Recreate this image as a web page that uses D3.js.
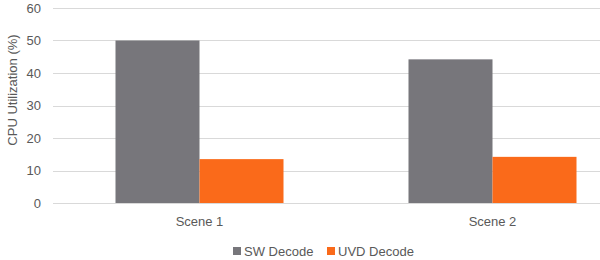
<!DOCTYPE html>
<html>
<head>
<meta charset="utf-8">
<script src="https://cdn.jsdelivr.net/npm/d3@7"></script>
<style>
  body { margin: 0; background: #fff; }
  text { font-family: "Liberation Sans", Arial, sans-serif; fill: #595959; }
</style>
</head>
<body>
<svg id="chart" width="600" height="260"></svg>
<script>
// Chart data
const scenes = ["Scene 1", "Scene 2"];
const seriesNames = ["SW Decode", "UVD Decode"];
const swDecode = [50, 44.2];
const uvdDecode = [13.5, 14.2];
const yTicks = [0, 10, 20, 30, 40, 50, 60];
const colors = ["#77767b", "#fa6a1a"];

const svg = d3.select("#chart");

// Plot area (the right side runs past the window edge, like the original)
const plotLeft = 53, plotRight = 639, plotTop = 8, plotBottom = 203;

const x0 = d3.scaleBand().domain(scenes).range([plotLeft, plotRight]).paddingInner(0).paddingOuter(0);
const x1 = d3.scaleBand().domain(seriesNames).range([0, 168]);
const y = d3.scaleLinear().domain([0, 60]).range([plotBottom, plotTop]);

// Gridlines
svg.append("g")
  .selectAll("line")
  .data(yTicks)
  .join("line")
  .attr("x1", plotLeft)
  .attr("x2", 600)
  .attr("y1", d => Math.round(y(d)) + 0.5)
  .attr("y2", d => Math.round(y(d)) + 0.5)
  .attr("stroke", "#d9d9d9")
  .attr("stroke-width", 1);

// Y tick labels
svg.append("g")
  .selectAll("text")
  .data(yTicks)
  .join("text")
  .attr("x", 41)
  .attr("y", d => y(d))
  .attr("dy", "0.35em")
  .attr("text-anchor", "end")
  .style("font-size", "13px")
  .text(d => d);

// Y axis title
svg.append("text")
  .attr("transform", "translate(17,90) rotate(-90)")
  .attr("text-anchor", "middle")
  .style("font-size", "13px")
  .text("CPU Utilization (%)");

// Bars
const series = [swDecode, uvdDecode];
const groups = svg.append("g")
  .selectAll("g")
  .data(scenes)
  .join("g")
  .attr("transform", d => `translate(${x0(d) + x0.bandwidth() / 2 - 84},0)`);

groups.selectAll("rect")
  .data((d, i) => seriesNames.map((name, s) => ({ name, value: series[s][i], color: colors[s] })))
  .join("rect")
  .attr("x", d => x1(d.name))
  .attr("width", x1.bandwidth())
  .attr("y", d => y(d.value))
  .attr("height", d => y(0) - y(d.value))
  .attr("fill", d => d.color);

// Category labels
svg.append("g")
  .selectAll("text")
  .data(scenes)
  .join("text")
  .attr("x", d => x0(d) + x0.bandwidth() / 2)
  .attr("y", 221)
  .attr("dy", "0.35em")
  .attr("text-anchor", "middle")
  .style("font-size", "13px")
  .text(d => d);

// Legend
const legendX = [233, 327];
const legend = svg.append("g")
  .selectAll("g")
  .data(seriesNames)
  .join("g")
  .attr("transform", (d, i) => `translate(${legendX[i]},247)`);

legend.append("rect")
  .attr("width", 8)
  .attr("height", 8)
  .attr("fill", (d, i) => colors[i]);

legend.append("text")
  .attr("x", 11)
  .attr("y", 4)
  .attr("dy", "0.35em")
  .style("font-size", "13px")
  .text(d => d);
</script>
</body>
</html>
